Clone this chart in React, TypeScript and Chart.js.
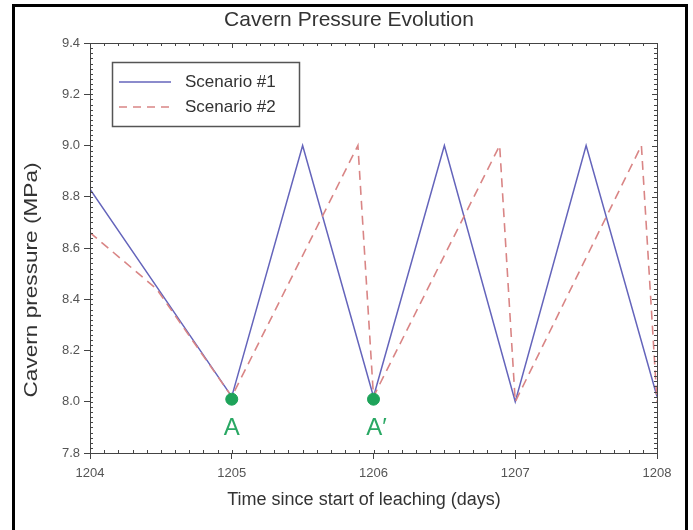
import React, { useEffect, useRef } from "react";
import { Chart, registerables } from "chart.js";

Chart.register(...registerables);

// ---- data ----
const chartTitle = "Cavern Pressure Evolution";
const xAxisTitle = "Time since start of leaching (days)";
const yAxisTitle = "Cavern pressure (MPa)";
const seriesNames = ["Scenario #1", "Scenario #2"];

const xTickValues = [1204, 1205, 1206, 1207, 1208];
const yTickValues = [7.8, 8.0, 8.2, 8.4, 8.6, 8.8, 9.0, 9.2, 9.4];
const xMinorStep = 0.1;
const yMinorStep = 0.02;

const scenario1Days = [1204, 1205, 1205.5, 1206, 1206.5, 1207, 1207.5, 1208];
const scenario1Pressure = [8.83, 8.02, 9.0, 8.02, 9.0, 8.0, 9.0, 8.02];

const scenario2Days = [1204, 1204.47, 1205, 1205.89, 1206, 1206.89, 1207, 1207.89, 1208];
const scenario2Pressure = [8.66, 8.44, 8.02, 9.0, 8.02, 9.0, 8.0, 9.0, 8.0];

const markerDays = [1205, 1206];
const markerPressure = [8.01, 8.01];
const markerLabels = ["A", "A\u2032"];

// ---- styles ----
const BLUE = "#6464bb";
const RED = "#d98585";
const GREEN = "#1ea35a";
const FONT = "'Liberation Sans', Arial, sans-serif";

const toPoints = (xs: number[], ys: number[]) => xs.map((x, i) => ({ x, y: ys[i] }));

const decorPlugin = {
  id: "decor",
  afterDatasetsDraw(chart: any) {
    const { ctx, chartArea } = chart;
    const { left, right, top, bottom } = chartArea;
    const xs = chart.scales.x;
    const ys = chart.scales.y;
    ctx.save();
    // frame
    ctx.strokeStyle = "#444";
    ctx.lineWidth = 1;
    ctx.strokeRect(left + 0.5, top + 0.5, right - left, bottom - top);

    // minor ticks
    ctx.beginPath();
    const xMin = xTickValues[0];
    const xMax = xTickValues[xTickValues.length - 1];
    const nx = Math.round((xMax - xMin) / xMinorStep);
    for (let i = 0; i <= nx; i++) {
      const px = Math.round(xs.getPixelForValue(xMin + i * xMinorStep)) + 0.5;
      const len = i % 10 === 0 ? 5 : 3;
      ctx.moveTo(px, top);
      ctx.lineTo(px, top + len);
      ctx.moveTo(px, bottom);
      ctx.lineTo(px, bottom - 3);
    }
    const yMin = yTickValues[0];
    const yMax = yTickValues[yTickValues.length - 1];
    const ny = Math.round((yMax - yMin) / yMinorStep);
    for (let i = 0; i <= ny; i++) {
      const py = Math.round(ys.getPixelForValue(yMin + i * yMinorStep)) + 0.5;
      const len = i % 10 === 0 ? 5 : 3;
      ctx.moveTo(left, py);
      ctx.lineTo(left + 3, py);
      ctx.moveTo(right, py);
      ctx.lineTo(right - len, py);
    }
    ctx.stroke();

    // titles
    ctx.fillStyle = "#333";
    ctx.textAlign = "center";
    ctx.textBaseline = "middle";
    ctx.font = `21px ${FONT}`;
    ctx.fillText(chartTitle, 349, 20);
    ctx.font = `18px ${FONT}`;
    ctx.fillText(xAxisTitle, 364, 500);
    ctx.save();
    ctx.translate(32, 280);
    ctx.rotate(-Math.PI / 2);
    const w = ctx.measureText(yAxisTitle).width;
    ctx.scale(235 / w, 1.05);
    ctx.fillText(yAxisTitle, 0, 0);
    ctx.restore();

    // marker labels
    const meta = chart.getDatasetMeta(2);
    ctx.fillStyle = "#2aa864";
    ctx.font = `24px ${FONT}`;
    ctx.textAlign = "center";
    ctx.textBaseline = "middle";
    meta.data.forEach((el: any, i: number) => {
      ctx.fillText(markerLabels[i], el.x + (i === 1 ? 3 : 0), el.y + 29);
    });

    // legend
    const lx = 112, ly = 62, lw = 187, lh = 64;
    ctx.fillStyle = "#fff";
    ctx.fillRect(lx, ly, lw, lh);
    ctx.strokeStyle = "#555";
    ctx.lineWidth = 1.5;
    ctx.strokeRect(lx + 0.5, ly + 0.5, lw, lh);
    const rows = [
      { name: seriesNames[0], color: BLUE, dash: [] as number[], y: 82 },
      { name: seriesNames[1], color: RED, dash: [8, 6], y: 107 },
    ];
    ctx.font = `17px ${FONT}`;
    ctx.textAlign = "left";
    rows.forEach((r) => {
      ctx.strokeStyle = r.color;
      ctx.lineWidth = 1.5;
      ctx.setLineDash(r.dash);
      ctx.beginPath();
      ctx.moveTo(119, r.y);
      ctx.lineTo(171, r.y);
      ctx.stroke();
      ctx.setLineDash([]);
      ctx.fillStyle = "#333";
      ctx.fillText(r.name, 185, r.y);
    });

    // outer border
    ctx.strokeStyle = "#000";
    ctx.lineWidth = 3;
    ctx.strokeRect(13.5, 5.5, 673, 600);
    ctx.restore();
  },
};

export default function App() {
  const ref = useRef<HTMLCanvasElement | null>(null);

  useEffect(() => {
    if (!ref.current) return;
    const chart = new Chart(ref.current, {
      type: "line",
      data: {
        datasets: [
          {
            label: seriesNames[0],
            data: toPoints(scenario1Days, scenario1Pressure),
            borderColor: BLUE,
            borderWidth: 1.5,
            pointRadius: 0,
            tension: 0,
            order: 2,
          },
          {
            label: seriesNames[1],
            data: toPoints(scenario2Days, scenario2Pressure),
            borderColor: RED,
            borderWidth: 1.6,
            borderDash: [9, 6],
            pointRadius: 0,
            tension: 0,
            order: 1,
          },
          {
            label: "markers",
            data: toPoints(markerDays, markerPressure),
            showLine: false,
            pointRadius: 6,
            pointBackgroundColor: GREEN,
            pointBorderColor: GREEN,
            order: 0,
          },
        ],
      },
      options: {
        animation: false,
        responsive: true,
        maintainAspectRatio: false,
        layout: { padding: { left: 0, right: 36, top: 43, bottom: 0 } },
        plugins: {
          legend: { display: false },
          tooltip: { enabled: false },
          title: { display: false },
        },
        scales: {
          x: {
            type: "linear",
            min: xTickValues[0],
            max: xTickValues[xTickValues.length - 1],
            afterBuildTicks: (s: any) => {
              s.ticks = xTickValues.map((v) => ({ value: v }));
            },
            afterFit: (s: any) => {
              s.height = 77;
            },
            ticks: {
              color: "#555",
              font: { family: FONT, size: 13 },
              padding: 7,
              callback: (v: any) => String(v),
              maxRotation: 0,
            },
            grid: {
              drawOnChartArea: false,
              drawTicks: true,
              tickLength: 6,
              color: "#444",
            },
            border: { display: true, color: "#444" },
            title: { display: false },
          },
          y: {
            type: "linear",
            min: yTickValues[0],
            max: yTickValues[yTickValues.length - 1],
            afterBuildTicks: (s: any) => {
              s.ticks = yTickValues.map((v) => ({ value: v }));
            },
            afterFit: (s: any) => {
              s.width = 90;
            },
            ticks: {
              color: "#555",
              font: { family: FONT, size: 13 },
              padding: 4,
              callback: (v: any) => Number(v).toFixed(1),
            },
            grid: {
              drawOnChartArea: false,
              drawTicks: true,
              tickLength: 6,
              color: "#444",
            },
            border: { display: true, color: "#444" },
            title: { display: false },
          },
        },
      },
      plugins: [decorPlugin],
    } as any);
    return () => chart.destroy();
  }, []);

  return (
    <div style={{ position: "fixed", left: 0, top: 0, width: 693, height: 530, background: "#fff" }}>
      <canvas ref={ref} />
    </div>
  );
}
